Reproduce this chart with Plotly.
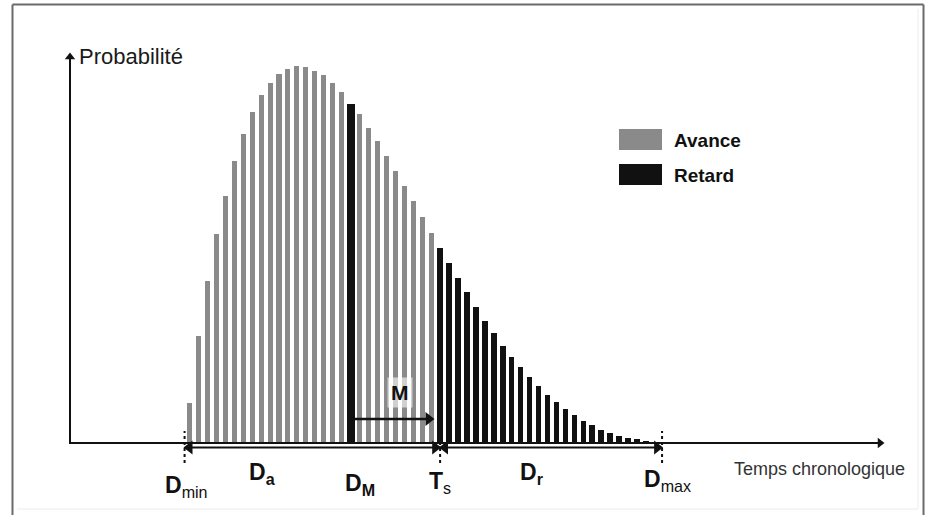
import plotly.graph_objects as go

# ---------------- data ----------------
temps = list(range(53))  # time steps (chronological)
probabilite = [40, 107, 162, 209, 247, 282, 309, 331, 348, 360, 369, 374, 377, 376,
               372, 368, 360, 351, 339, 329, 315, 302, 287, 272, 257, 242, 226, 210,
               195, 180, 165, 151, 136, 122, 110, 97, 86, 76, 66, 57, 48, 41, 34, 28,
               22, 18, 13, 10, 7, 5, 4, 2, 1]
D_MIN = -0.55
D_MODE = 18      # index of D_M (mode)
T_S = 28         # first step of "Retard"
D_MAX = 52.8
legend_labels = ["Avance", "Retard"]

# ---------------- geometry helpers ----------------
W, H = 926, 515
X0, PITCH, BASE_PY = 189.5, 8.95, 443.0
x_range = [(0 - X0) / PITCH, (W - X0) / PITCH]
y_range = [-(H - BASE_PY), BASE_PY]

def dx(xpix):
    return (xpix - X0) / PITCH

def dy(ypix):
    return BASE_PY - ypix

def px(x):
    return x / W

def py(y):
    return 1 - y / H

GREY = "#8a8a8a"
BLACK = "#111111"
FONT = "Arial, Liberation Sans, sans-serif"

av_x = [t for t in temps if t < T_S and t != D_MODE]
av_y = [probabilite[t] for t in av_x]
re_x = [t for t in temps if t >= T_S]
re_y = [probabilite[t] for t in re_x]

fig = go.Figure()
fig.add_trace(go.Bar(x=av_x, y=av_y, width=0.56, marker=dict(color=GREY, line=dict(width=0)),
                     name=legend_labels[0], showlegend=False, hoverinfo="skip"))
fig.add_trace(go.Bar(x=re_x, y=re_y, width=0.62, marker=dict(color=BLACK, line=dict(width=0)),
                     name=legend_labels[1], showlegend=False, hoverinfo="skip"))
fig.add_trace(go.Bar(x=[D_MODE], y=[probabilite[D_MODE]], width=0.9,
                     marker=dict(color=BLACK, line=dict(width=0)),
                     name="D_M", showlegend=False, hoverinfo="skip"))


def arrow_line(xs, ys, width):
    fig.add_trace(go.Scatter(x=xs, y=ys, mode="lines", line=dict(color=BLACK, width=width),
                             showlegend=False, hoverinfo="skip"))


def heads(xs, ys, symbols, size):
    fig.add_trace(go.Scatter(x=xs, y=ys, mode="markers",
                             marker=dict(symbol=symbols, size=size, color=BLACK, line=dict(width=0)),
                             showlegend=False, hoverinfo="skip"))


# axes with arrow heads
arrow_line([dx(69), dx(880)], [0, 0], 2)
heads([dx(880)], [0], ["triangle-right"], 9)
arrow_line([dx(70), dx(70)], [dy(444), dy(57)], 2)
heads([dx(70)], [dy(57)], ["triangle-up"], 9)

# double arrows D_a and D_r
ya = -4.5
h = 0.55  # half arrow head in time units
arrow_line([D_MIN + h, D_MAX - h], [ya, ya], 2)
heads([D_MIN + h, T_S - h, T_S + h, D_MAX - h], [ya] * 4,
      ["triangle-left", "triangle-right", "triangle-left", "triangle-right"], 12)

# M arrow
arrow_line([D_MODE, T_S - 1.3], [24, 24], 2.5)
heads([T_S - 1.3], [24], ["triangle-right"], 12)

shapes = []
annotations = []

# outer frame
for (xa, ya_, xb, yb) in [(12.5, 4.5, 923.5, 4.5), (12.5, 4.5, 12.5, 516), (923.5, 4.5, 923.5, 516)]:
    shapes.append(dict(type="line", xref="paper", yref="paper", x0=px(xa), y0=py(ya_),
                       x1=px(xb), y1=py(yb), line=dict(color="#6a6a6a", width=2)))
for (xa, ya_, xb, yb) in [(17, 509, 918, 509), (918, 9, 918, 509)]:
    shapes.append(dict(type="line", xref="paper", yref="paper", x0=px(xa), y0=py(ya_),
                       x1=px(xb), y1=py(yb), line=dict(color="#ececec", width=1)))

# dotted markers
for xv, (ytop, ybot) in [(D_MIN, (12, -20)), (T_S, (9, -20)), (D_MAX, (12, -20))]:
    shapes.append(dict(type="line", xref="x", yref="y", x0=xv, x1=xv, y0=ybot, y1=ytop,
                       line=dict(color=BLACK, width=2, dash="dot")))

annotations.append(dict(x=(D_MODE + T_S) / 2 + 0.5, y=51, xref="x", yref="y", text="<b>M</b>",
                        showarrow=False, font=dict(family=FONT, size=21, color=BLACK),
                        bgcolor="rgba(255,255,255,0.6)", borderpad=3))

# D labels
lab_font = dict(family=FONT, size=23, color=BLACK)
labels = [
    (D_MIN, 2, -43, "<b>D</b><sub>min</sub>"),
    (8.2, 0, -30, "<b>D</b><sub><b>a</b></sub>"),
    (D_MODE, 9, -41, "<b>D</b><sub><b>M</b></sub>"),
    (T_S, 0, -39, "<b>T</b><sub>s</sub>"),
    (38.3, 0, -30, "<b>D</b><sub><b>r</b></sub>"),
    (D_MAX, 5, -37, "<b>D</b><sub>max</sub>"),
]
for xv, xs, yv, txt in labels:
    annotations.append(dict(x=xv, y=yv, xref="x", yref="y", xshift=xs, text=txt, showarrow=False,
                            xanchor="center", yanchor="middle", font=lab_font))

# axis titles
annotations.append(dict(x=px(77), y=py(56), xref="paper", yref="paper", text="Probabilité",
                        showarrow=False, xanchor="left", yanchor="middle",
                        font=dict(family=FONT, size=22, color="#1a1a1a")))
annotations.append(dict(x=px(732), y=py(469), xref="paper", yref="paper", text="Temps chronologique",
                        showarrow=False, xanchor="left", yanchor="middle",
                        font=dict(family=FONT, size=18, color="#333333")))

# legend
for i, (lab, col) in enumerate(zip(legend_labels, [GREY, BLACK])):
    top = 129 + i * 35
    shapes.append(dict(type="rect", xref="paper", yref="paper", x0=px(619), x1=px(662),
                       y0=py(top + 21), y1=py(top), fillcolor=col, line=dict(width=0)))
    annotations.append(dict(x=px(672), y=py(top + 11), xref="paper", yref="paper",
                            text=f"<b>{lab}</b>", showarrow=False, xanchor="left", yanchor="middle",
                            font=dict(family=FONT, size=19, color=BLACK)))

fig.update_layout(
    width=W, height=H, autosize=False,
    margin=dict(l=0, r=0, t=0, b=0, pad=0),
    paper_bgcolor="white", plot_bgcolor="white",
    barmode="overlay", bargap=0,
    xaxis=dict(range=x_range, visible=False, fixedrange=True),
    yaxis=dict(range=y_range, visible=False, fixedrange=True),
    shapes=shapes, annotations=annotations, showlegend=False,
)

fig.write_html("out.html", config={"displayModeBar": False, "staticPlot": True},
               post_script="document.body.style.margin='0';document.body.style.overflow='hidden';")
